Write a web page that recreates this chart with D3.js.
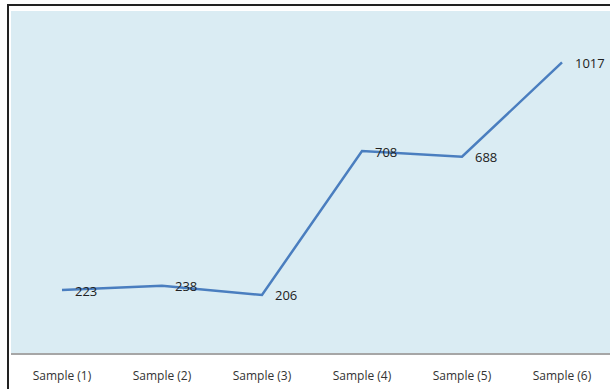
<!DOCTYPE html>
<html>
<head>
<meta charset="utf-8">
<script src="https://cdn.jsdelivr.net/npm/d3@7"></script>
<style>
  html, body { margin: 0; padding: 0; background: #fff; overflow: hidden; }
  svg { display: block; }
</style>
</head>
<body>
<script>
// Sample readings plotted as a single line
const categories = ["Sample (1)", "Sample (2)", "Sample (3)", "Sample (4)", "Sample (5)", "Sample (6)"];
const values = [223, 238, 206, 708, 688, 1017];
const valueLabels = ["223", "238", "206", "708", "688", "1017"];

const W = 610, H = 389;
const svg = d3.select("body").append("svg").attr("width", W).attr("height", H);

// Outer frame (left and top edges visible)
svg.append("path")
  .attr("d", `M8,${H} V5 H${W}`)
  .attr("fill", "none")
  .attr("stroke", "#222")
  .attr("stroke-width", 2);

const plot = { left: 12, right: 612, top: 11, bottom: 354 };

// Plot area background
svg.append("rect")
  .attr("x", 11).attr("y", plot.top)
  .attr("width", W - 11).attr("height", plot.bottom - plot.top)
  .attr("fill", "#daecf3");

const x = d3.scaleBand().domain(categories).range([plot.left, plot.right]);
const y = d3.scaleLinear().domain([0, 1200]).range([plot.bottom, 10]);

// Category axis
const xAxis = svg.append("g")
  .attr("transform", `translate(0,${plot.bottom})`)
  .call(d3.axisBottom(x).tickSize(0).tickPadding(17));
xAxis.select(".domain").attr("stroke", "#a6a6a6").attr("stroke-width", 2)
  .attr("d", `M11,0H${W}`);
xAxis.selectAll("text")
  .attr("font-family", "'Open Sans', sans-serif")
  .attr("font-size", 12)
  .attr("fill", "#333");

const data = categories.map((c, i) => ({ c, v: values[i], label: valueLabels[i] }));

// Series line
svg.append("path")
  .datum(data)
  .attr("fill", "none")
  .attr("stroke", "#4a7ebf")
  .attr("stroke-width", 2.5)
  .attr("stroke-linejoin", "miter")
  .attr("d", d3.line().x(d => x(d.c) + x.bandwidth() / 2).y(d => y(d.v)));

// Value labels to the right of each point
svg.append("g").selectAll("text")
  .data(data)
  .join("text")
  .attr("x", d => x(d.c) + x.bandwidth() / 2 + 13)
  .attr("y", d => y(d.v) + 1)
  .attr("dy", "0.35em")
  .attr("font-family", "'Open Sans', sans-serif")
  .attr("font-size", 13)
  .attr("fill", "#222")
  .text(d => d.label);
</script>
</body>
</html>
